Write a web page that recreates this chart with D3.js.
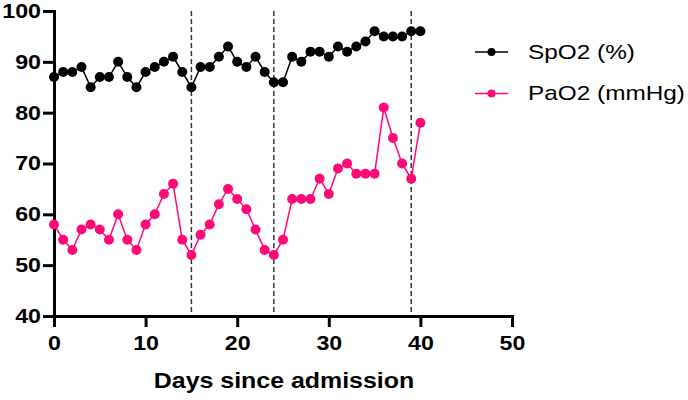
<!DOCTYPE html>
<html><head><meta charset="utf-8">
<script src="https://cdn.jsdelivr.net/npm/d3@7"></script>
<style>body{margin:0;background:#fff}svg{display:block}</style>
</head><body>
<svg id="c" width="688" height="400"></svg>
<script>
const days = d3.range(0, 41);
const spo2 = [87,88,88,89,85,87,87,90,87,85,88,89,90,91,88,85,89,89,91,93,90,89,91,88,86,86,91,90,92,92,91,93,92,93,94,96,95,95,95,96,96];
const pao2 = [58,55,53,57,58,57,55,60,55,53,58,60,64,66,55,52,56,58,62,65,63,61,57,53,52,55,63,63,63,67,64,69,70,68,68,68,81,75,70,67,78];
const eventDays = [15, 24, 39];
const xTicks = [0,10,20,30,40,50];
const yTicks = [40,50,60,70,80,90,100];
const seriesNames = ["SpO2 (%)", "PaO2 (mmHg)"];
const colors = ["#000000", "#ff0a78"];

const SX = 1.16; // horizontal text stretch
const svg = d3.select("#c");
const x = d3.scaleLinear().domain([0,50]).range([54,512]);
const y = d3.scaleLinear().domain([40,100]).range([316,11]);

svg.selectAll(".ev").data(eventDays).enter().append("line")
  .attr("x1", d=>x(d)).attr("x2", d=>x(d)).attr("y1", y(100)).attr("y2", y(40))
  .attr("stroke", "#333").attr("stroke-width", 1.5).attr("stroke-dasharray", "5,3");

const font = "Arial, 'Liberation Sans', sans-serif";
function stretch(sel) {
  sel.each(function() {
    const t = d3.select(this);
    const ox = +t.attr("x") || 0;
    t.attr("x", 0).attr("transform", `translate(${ox},0) scale(${SX},1)`);
  });
}
const xa = svg.append("g").attr("transform", `translate(0,${y(40)})`)
  .call(d3.axisBottom(x).tickValues(xTicks).tickSize(11).tickPadding(9).tickSizeOuter(0));
const ya = svg.append("g").attr("transform", `translate(${x(0)},0)`)
  .call(d3.axisLeft(y).tickValues(yTicks).tickSize(11).tickPadding(2).tickSizeOuter(0));
[xa, ya].forEach(a => {
  a.select(".domain").attr("stroke", "#000").attr("stroke-width", 3).attr("stroke-linecap","square");
  a.selectAll(".tick line").attr("stroke", "#000").attr("stroke-width", 3);
  a.selectAll("text").attr("font-family", font).attr("font-weight", "bold").attr("font-size", 20).attr("fill", "#000");
  stretch(a.selectAll("text"));
});

const series = [spo2, pao2];
series.forEach((vals, i) => {
  const pts = days.map((d, j) => [d, vals[j]]);
  svg.append("path").datum(pts)
    .attr("fill", "none").attr("stroke", colors[i]).attr("stroke-width", 1.5)
    .attr("d", d3.line().x(d=>x(d[0])).y(d=>y(d[1])));
  svg.selectAll(".m"+i).data(pts).enter().append("circle")
    .attr("cx", d=>x(d[0])).attr("cy", d=>y(d[1])).attr("r", 5).attr("fill", colors[i]);
});

svg.append("text").attr("transform", `translate(${(x(0)+x(50))/2 + 1},388) scale(${SX},1)`).attr("text-anchor","middle")
  .attr("font-family", font).attr("font-weight","bold").attr("font-size", 21.5).text("Days since admission");

seriesNames.forEach((n, i) => {
  const ly = 52 + i*41.5;
  const g = svg.append("g");
  g.append("line").attr("x1", 475).attr("x2", 508).attr("y1", ly).attr("y2", ly).attr("stroke", colors[i]).attr("stroke-width", 1.5);
  g.append("circle").attr("cx", 491.5).attr("cy", ly).attr("r", 4).attr("fill", colors[i]);
  g.append("text").attr("transform", `translate(528,${ly+6.5}) scale(${SX},1)`)
    .attr("font-family", font).attr("font-size", 21).attr("fill","#000").text(n);
});
</script>
</body></html>
